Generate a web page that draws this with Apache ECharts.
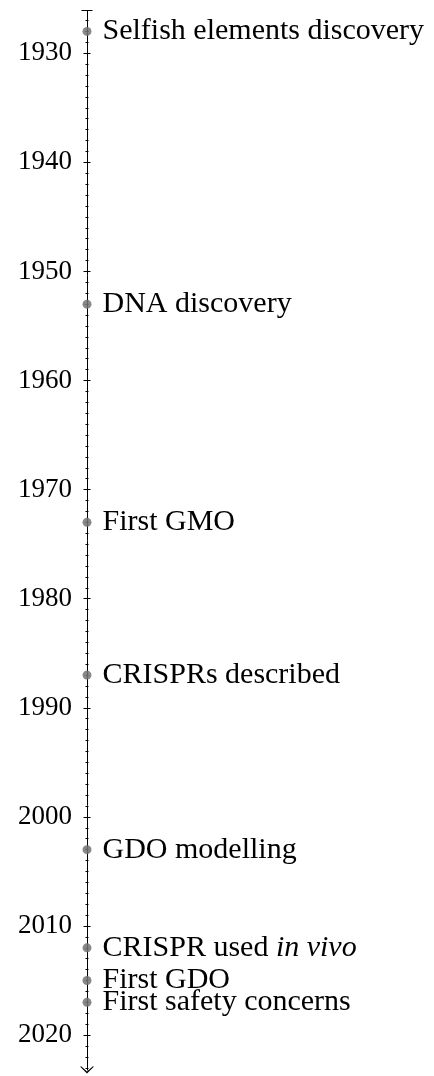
<!DOCTYPE html>
<html>
<head>
<meta charset="utf-8">
<style>html,body{margin:0;padding:0;background:#fff;}#c{width:434px;height:1076px;}</style>
<script src="https://cdn.jsdelivr.net/npm/echarts@6/dist/echarts.min.js"></script>
</head>
<body>
<div id="c"></div>
<script>
const eventYears = [1928, 1953, 1973, 1987, 2003, 2012, 2015, 2017];
const eventNames = [
  'Selfish elements discovery',
  'DNA discovery',
  'First GMO',
  'CRISPRs described',
  'GDO modelling',
  'CRISPR used {i|in vivo}',
  'First GDO',
  'First safety concerns'
];
const majorTicks = [1930, 1940, 1950, 1960, 1970, 1980, 1990, 2000, 2010, 2020];
const minorTicks = [];
for (let y = 1927; y <= 2023; y++) { if (y % 10 !== 0) minorTicks.push(y); }
const axisMin = 1926.1;
const axisMax = 2023.2;

const serif = '"Liberation Serif", "DejaVu Serif", serif';
const chart = echarts.init(document.getElementById('c'));

function baseAxis(extra) {
  return Object.assign({
    type: 'value', inverse: true, min: axisMin, max: axisMax, position: 'left',
    splitLine: { show: false },
    axisLine: { show: false },
    axisLabel: { show: false },
    axisTick: { show: false }
  }, extra);
}
function ticks(values, len, inside) {
  return baseAxis({ axisTick: { show: true, customValues: values, length: len, inside: inside, lineStyle: { color: '#000', width: 1 } } });
}

chart.setOption({
  animation: false,
  grid: { left: 87, right: 0, top: 10.7, bottom: 6 },
  xAxis: { type: 'value', min: 0, max: 1, show: false },
  yAxis: [
    baseAxis({
      axisLine: {
        show: true, lineStyle: { color: '#000', width: 1 },
        symbol: ['path://M7,0 L14,7 L12.6,7 L7,1.9 L1.4,7 L0,7 Z', 'none'],
        symbolSize: [14, 7],
        symbolOffset: [0, 0]
      },
      axisTick: { show: true, customValues: majorTicks, length: 3.5, inside: false, lineStyle: { color: '#000', width: 1 } },
      axisLabel: { show: true, customValues: majorTicks, margin: 15, color: '#000', fontFamily: serif, fontSize: 27, formatter: v => String(v) }
    }),
    ticks(majorTicks, 3.5, true),
    ticks(minorTicks, 1.5, false),
    ticks(minorTicks, 1.5, true),
    ticks([axisMin], 5.5, false),
    ticks([axisMin], 5.5, true)
  ],
  series: [{
    type: 'scatter',
    yAxisIndex: 0,
    symbol: 'circle',
    symbolSize: 9,
    itemStyle: { color: 'rgba(115,115,115,0.85)', opacity: 1 },
    data: eventYears.map((y, i) => ({ value: [0, y], name: eventNames[i] })),
    label: {
      show: true, position: 'right', distance: 11,
      formatter: p => p.name,
      color: '#000', opacity: 1, textBorderWidth: 0, fontFamily: serif, fontSize: 30,
      rich: { i: { fontStyle: 'italic', fontFamily: serif, fontSize: 30, color: '#000' } }
    },
    labelLayout: { hideOverlap: false }
  }]
});
</script>
</body>
</html>
